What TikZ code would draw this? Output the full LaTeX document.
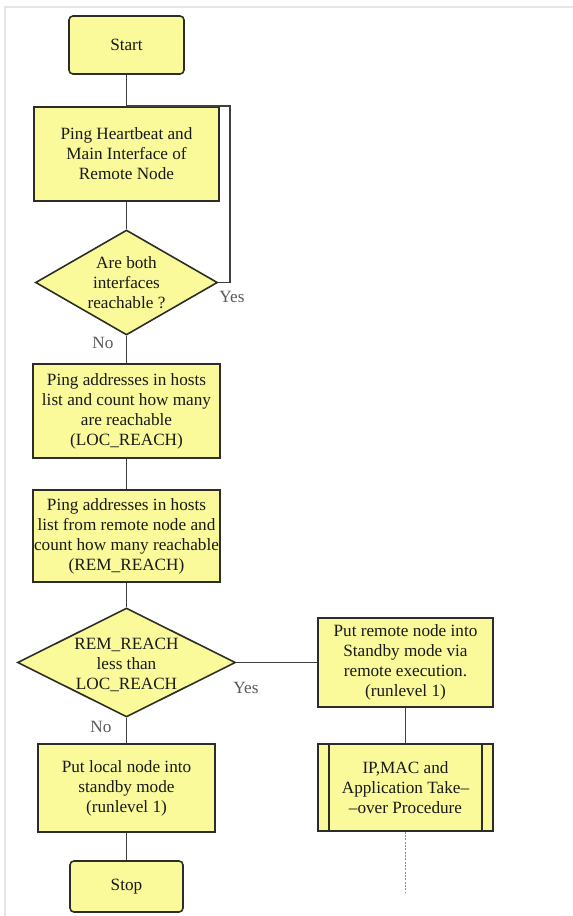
\documentclass[tikz,border=0pt]{standalone}
\usepackage{fontspec}
\setmainfont{Liberation Serif}
\usetikzlibrary{shapes.geometric, positioning}

\definecolor{boxfill}{RGB}{250,250,155}
\definecolor{boxline}{RGB}{45,45,40}

\tikzset{
  txt/.style={font=\fontsize{12.9}{15}\selectfont, text=black!90},
  proc/.style={txt, draw=boxline, fill=boxfill, line width=1.2pt, inner sep=0pt, align=center},
  term/.style={proc, rounded corners=3pt},
  decision/.style={diamond, draw=boxline, fill=boxfill, line width=1.2pt, inner sep=0pt},
  dtext/.style={txt, align=center, inner sep=0pt},
  conn/.style={draw=black!75, line width=1pt},
  tag/.style={txt, text=black!65, inner sep=0pt}
}

\begin{document}
\begin{tikzpicture}[x=0.75pt,y=0.75pt,yscale=-1,xscale=1]
\useasboundingbox (0,0) rectangle (573,916);

%frame
\draw [black!10, line width=1.2pt] (573,7) -- (5,7) -- (5,916);

% Nodes
\node [term, minimum width=86.25pt, minimum height=43.5pt] (start) at (126.5,45) {Start};
\node [proc, minimum width=138.75pt, minimum height=70.5pt] (ping) at (126.5,154) {Ping Heartbeat and\\Main Interface of\\Remote Node};
\node [decision, minimum width=136.5pt, minimum height=78.75pt] (both) at (126.5,282.5) {};
\node [dtext] (bothtxt) at (both) {Are both\\interfaces\\reachable ?};
\node [proc, minimum width=140.25pt, minimum height=70.5pt] (locreach) at (126.5,411) {Ping addresses in hosts\\list and count how many\\are reachable\\(LOC\_REACH)};
\node [proc, minimum width=140.25pt, minimum height=69pt] (remreach) at (126.5,536) {Ping addresses in hosts\\list from remote node and\\count how many reachable\\(REM\_REACH)};
\node [decision, minimum width=163.5pt, minimum height=81.75pt] (less) at (126.5,662.5) {};
\node [dtext] (lesstxt) at (126.5,665) {REM\_REACH\\less than\\LOC\_REACH};
\node [proc, minimum width=132.75pt, minimum height=66pt] (local) at (126.5,788) {Put local node into\\standby mode\\(runlevel 1)};
\node [term, minimum width=84.75pt, minimum height=38.25pt] (stop) at (126.5,886.5) {Stop};
\node [proc, minimum width=131.25pt, minimum height=66.75pt] (remote) at (405.5,662.5) {Put remote node into\\Standby mode via\\remote execution.\\(runlevel 1)};
\node [proc, minimum width=131.25pt, minimum height=65.25pt] (takeover) at (405.5,787.5) {IP,MAC and\\Application Take--\\--over Procedure};
\draw [boxline, line width=1.2pt] ([xshift=9pt]takeover.north west) -- ([xshift=9pt]takeover.south west);
\draw [boxline, line width=1.2pt] ([xshift=-9pt]takeover.north east) -- ([xshift=-9pt]takeover.south east);

\coordinate (loop) at (230,106);
\coordinate (tail) at (405.5,893);

%Straight Lines
\draw [conn] (start) -- (ping);
\draw [conn] (ping) -- (both);
\draw [conn] (both.east) -| (loop) -- (loop -| start.south);
\draw [conn] (both) -- (locreach);
\draw [conn] (locreach) -- (remreach);
\draw [conn] (remreach) -- (less);
\draw [conn] (less) -- (local);
\draw [conn] (local) -- (stop);
\draw [conn] (less.east) -- (remote.west);
\draw [conn] (remote) -- (takeover);
\draw [black!45, line width=1pt, dash pattern=on 1.5pt off 1pt] (takeover) -- (tail);

% Text Node
\node [tag] (yes1) at (232,297) {Yes};
\node [tag] (no1) at (103,343) {No};
\node [tag] (yes2) at (246,688) {Yes};
\node [tag] (no2) at (101,727) {No};

\end{tikzpicture}
\end{document}
